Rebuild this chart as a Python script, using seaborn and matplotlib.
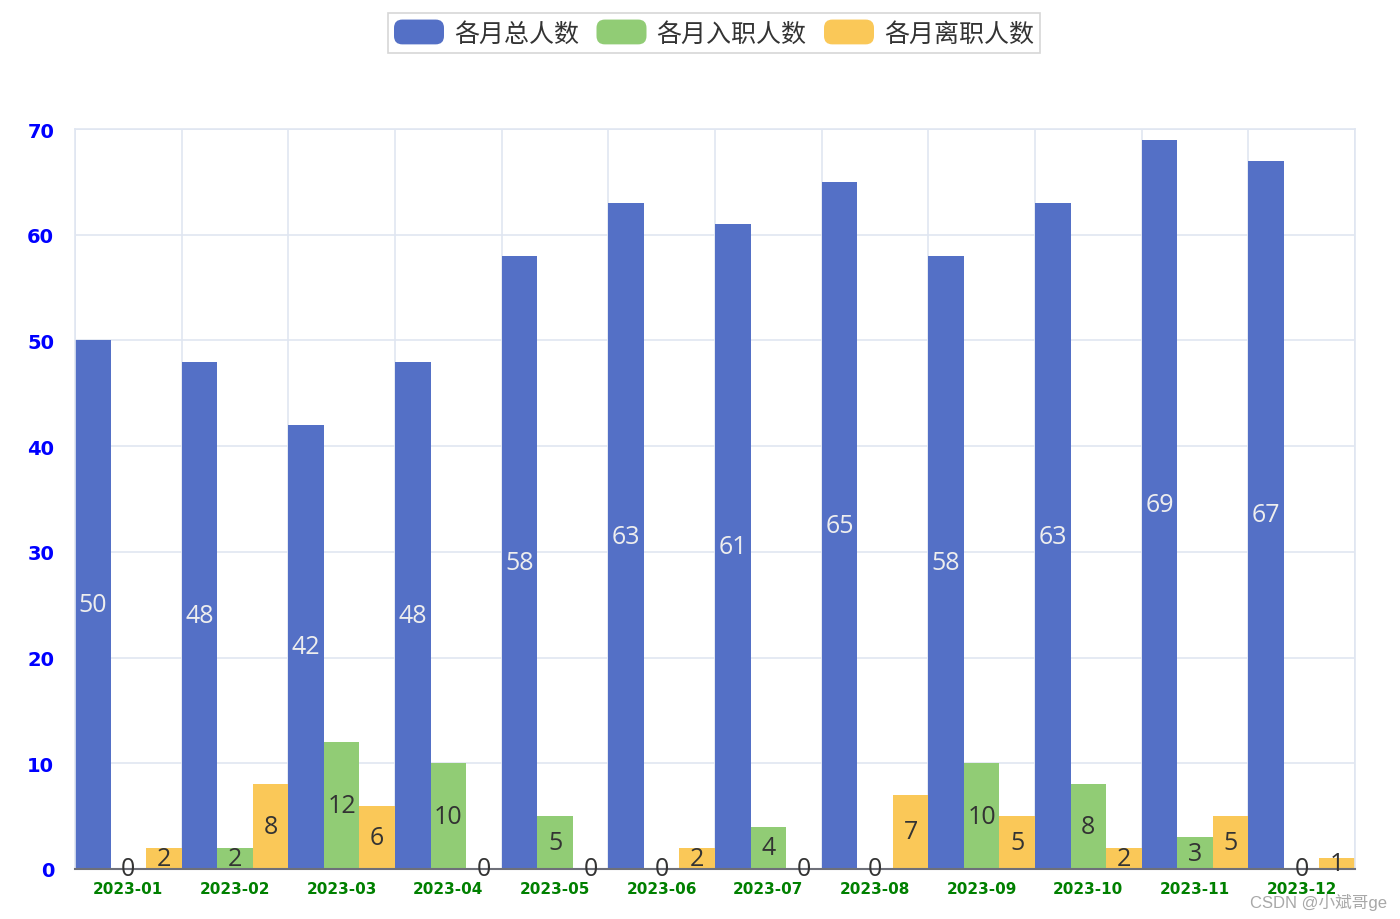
import numpy as np
import pandas as pd
import matplotlib
matplotlib.use("Agg")
import matplotlib.pyplot as plt
from matplotlib.patches import FancyBboxPatch, Patch
from matplotlib.legend_handler import HandlerPatch
import seaborn as sns

# data
months = ["2023-01", "2023-02", "2023-03", "2023-04", "2023-05", "2023-06",
          "2023-07", "2023-08", "2023-09", "2023-10", "2023-11", "2023-12"]
total = [50, 48, 42, 48, 58, 63, 61, 65, 58, 63, 69, 67]
joined = [0, 2, 12, 10, 5, 0, 4, 0, 10, 8, 3, 0]
left = [2, 8, 6, 0, 0, 2, 0, 7, 5, 2, 5, 1]
series = ["各月总人数", "各月入职人数", "各月离职人数"]
colors = ["#5470C6", "#91CC75", "#FAC858"]

df = pd.DataFrame({"月份": months, series[0]: total, series[1]: joined, series[2]: left})
long_df = df.melt(id_vars="月份", var_name="类别", value_name="人数")

sns.set_style("white")
plt.rcParams["font.family"] = ["Open Sans", "Noto Sans CJK SC", "DejaVu Sans"]

fig = plt.figure(figsize=(14, 9.2), dpi=100)
ax = fig.add_axes([75 / 1400, 1 - 870 / 920, 1280 / 1400, 740 / 920])

sns.barplot(data=long_df, x="月份", y="人数", hue="类别", hue_order=series,
            palette=colors, width=1.0, gap=0, saturation=1, linewidth=0,
            ax=ax, legend=False)

# value labels in the middle of bars
label_colors = ["#eeeeee", "#333333", "#333333"]
for cont, c in zip(ax.containers, label_colors):
    ax.bar_label(cont, label_type="center", color=c, fontsize=18)

ax.set_xlim(-0.5, 11.5)
ax.set_ylim(0, 70)
ax.set_yticks(range(0, 71, 10))
ax.set_xlabel("")
ax.set_ylabel("")

grid_c = "#E0E6F1"
ax.set_xticks(np.arange(-0.5, 12, 1), minor=True)
ax.grid(True, axis="y", which="major", color=grid_c, lw=1.2)
ax.grid(True, axis="x", which="minor", color=grid_c, lw=1.2)
ax.set_axisbelow(True)
for s in ["top", "right", "left"]:
    ax.spines[s].set_color(grid_c)
    ax.spines[s].set_linewidth(1.2)
ax.spines["bottom"].set_color("#6E7079")
ax.spines["bottom"].set_linewidth(1.5)
ax.tick_params(axis="x", which="major", length=0, pad=9, labelcolor="green")
ax.tick_params(axis="x", which="minor", length=6, width=1.5, color="#6E7079")
ax.tick_params(axis="y", length=0, pad=15, labelcolor="blue")
for t in ax.get_xticklabels():
    t.set_family("DejaVu Sans")
    t.set_fontsize(11)
    t.set_fontweight("bold")
for t in ax.get_yticklabels():
    t.set_family("DejaVu Sans")
    t.set_fontsize(14)
    t.set_fontweight("bold")


class RoundHandler(HandlerPatch):
    def create_artists(self, legend, orig_handle, xdescent, ydescent,
                       width, height, fontsize, trans):
        p = FancyBboxPatch((-xdescent, -ydescent), width, height,
                           boxstyle="round,pad=0,rounding_size=6",
                           facecolor=orig_handle.get_facecolor(), edgecolor="none",
                           transform=trans)
        return [p]


handles = [Patch(facecolor=c) for c in colors]
leg = fig.legend(handles, series, loc="center", bbox_to_anchor=(714 / 1400, 1 - 34 / 920),
                 ncol=3, fontsize=18, frameon=True, fancybox=False,
                 handlelength=2.0, handleheight=1.15, handletextpad=0.4, columnspacing=0.7,
                 borderpad=0.25, borderaxespad=0, handler_map={Patch: RoundHandler()})
leg.get_frame().set_edgecolor("#cccccc")
leg.get_frame().set_linewidth(1.2)
for t in leg.get_texts():
    t.set_color("#333333")

fig.text(1387 / 1400, 1 - 903 / 920, "CSDN @小斌哥ge", ha="right", va="center",
         fontsize=12, color="#999999", alpha=0.85, family=["Liberation Sans", "Noto Sans CJK SC"])

fig.savefig("out.png", dpi=100)
